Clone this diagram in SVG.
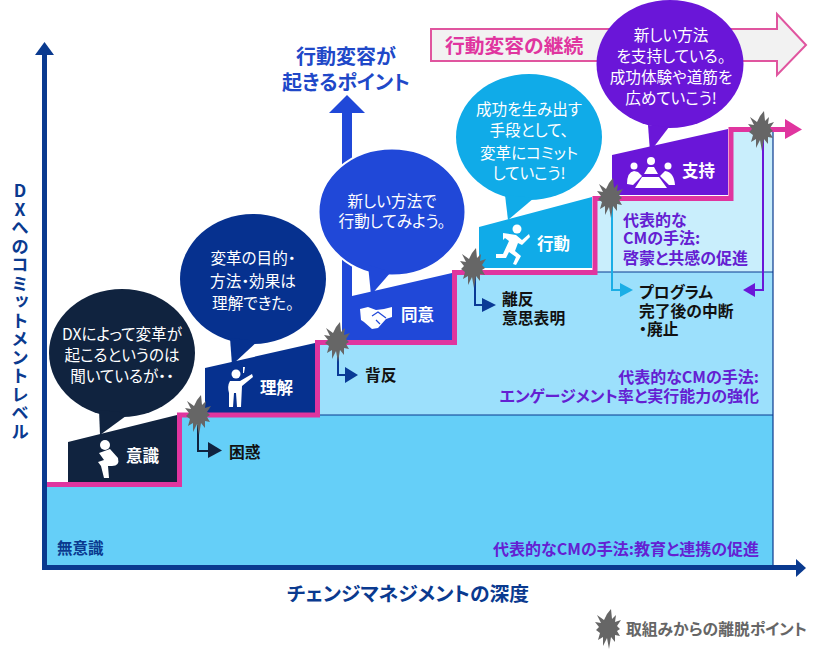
<svg xmlns="http://www.w3.org/2000/svg" width="819" height="663" viewBox="0 0 819 663">
<style>
text{font-family:"Noto Sans CJK JP","Noto Sans",sans-serif;dominant-baseline:central;font-feature-settings:"palt"}
.b{font-size:15.6px;fill:#fff;text-anchor:middle}
.s{font-size:16.500px;font-weight:700;fill:#fff}
.k{font-size:15.800px;font-weight:700;fill:#111}
.p{font-size:16px;font-weight:700;fill:#6420d2}
.n{font-size:15.500px;font-weight:700;fill:#0a3a8f}
.h{font-size:20px;font-weight:700;fill:#2048c8;text-anchor:middle}
.w{fill:#fff}
.line{fill:none;stroke-width:2}
.ring{stroke:#fff;stroke-width:2}
</style>
<defs>
<polygon id="star" fill="#666" points="3,-20 4,-10 8,-14 7,-7 13,-9 9,-3 12,0 9,2 12,7 7,6 7,13 3,8 1,20 -1,9 -5,17 -5,8 -10,11 -8,4 -12,1 -9,-2 -13,-7 -7,-6 -11,-14 -4,-9 -1,-15"/>
</defs>
<rect width="819" height="663" fill="#fff"/>
<g id="regions">
<path d="M47 484H180V415H773V565H47Z" fill="#65cff8"/>
<path d="M317 415V342H455V272H773V415Z" fill="#9ce0fc"/>
<path d="M595 272V198H731V129H773V272Z" fill="#c9eefc"/>
<path d="M595 272H773M317 415H773M773 129V565" fill="none" stroke="#0a3a8f" stroke-width="1.2"/>
</g>
<g id="continuation-arrow">
<path d="M431 29H777V14L806 45L777 75V61H431Z" fill="#f2f2f2" stroke="#e0559f" stroke-width="2"/>
<text x="445" y="44" style="font-size:19.800px;font-weight:700;fill:#e0359f">行動変容の継続</text>
</g>
<g id="point-label">
<text class="h" x="346" y="55">行動変容が</text>
<text class="h" x="346" y="81">起きるポイント</text>
<path d="M342 340V113H329L347 95L365 113H352V340Z" fill="#2048d8"/>
</g>
<g id="node-awareness">
<path d="M68 442L177 415V482H68Z" fill="#10233f"/>
<g class="w"><circle cx="105" cy="445" r="5"/><path d="M99 453L110 449L118 458Q120 466 112 466L108 466L109 478L104 478L101 466L98 462L104 460Z"/></g>
<text class="s" x="126" y="455">意識</text>
<ellipse cx="122" cy="353" rx="73" ry="64" fill="#10233f"/>
<polygon points="99,410 130,413 100,435" fill="#10233f"/>
<text class="b" x="122" y="333">DXによって変革が</text>
<text class="b" x="122" y="354">起こるというのは</text>
<text class="b" x="122" y="375">聞いているが・・</text>
</g>
<g id="node-understanding">
<path d="M205 368L315 343V413H205Z" fill="#06318f"/>
<g class="w"><circle cx="236" cy="374" r="4.500"/><path d="M230 381L240 381L252 374L253 377L242 386L241 407L237 407L236 393L234 393L233 407L229 407L229 393Q227 386 230 381Z"/><path d="M243 367L245 367L244 373L243 373Z"/></g>
<text class="s" x="260" y="387">理解</text>
<ellipse cx="253" cy="279" rx="73" ry="65" fill="#06318f"/>
<polygon points="230,338 258,341 232,365" fill="#06318f"/>
<text class="b" x="253" y="257">変革の目的・</text>
<text class="b" x="253" y="280">方法・効果は</text>
<text class="b" x="253" y="302">理解できた。</text>
</g>
<g id="node-agreement">
<path d="M342 262H352V296L452 273V340H342Z" fill="#2048d8"/>
<g class="w"><path d="M360 309L368 307L376 310L384 309L392 307L392 317L386 319L378 328L372 329L364 322L361 320Z"/></g>
<path d="M372 316L378 312L386 318M376 320L380 324" fill="none" stroke="#2048d8" stroke-width="1.2"/>
<text class="s" x="401" y="314">同意</text>
<ellipse cx="392" cy="212" rx="73.500" ry="63.500" fill="#2048d8" class="ring"/>
<polygon points="368,265 391,272 371,295" fill="#2048d8"/>
<text class="b" x="392" y="200">新しい方法で</text>
<text class="b" x="392" y="220">行動してみよう。</text>
</g>
<g id="node-action">
<path d="M479 227L592 197V268H479Z" fill="#10abe8"/>
<g class="w"><circle cx="517" cy="229" r="4.500"/><path d="M503 233L516 235L522 240L529 234L530 237L522 245L518 243L515 251L521 256L516 265L513 264L516 257L509 252L506 258L496 258L496 254L503 254L509 241L505 238L503 240Z"/></g>
<text class="s" x="537" y="243">行動</text>
<ellipse cx="529" cy="137" rx="73" ry="63" fill="#10abe8"/>
<polygon points="505,195 534,198 508,220" fill="#10abe8"/>
<text class="b" x="529" y="108">成功を生み出す</text>
<text class="b" x="529" y="129">手段として、</text>
<text class="b" x="529" y="152">変革にコミット</text>
<text class="b" x="529" y="172">していこう!</text>
</g>
<g id="node-support">
<path d="M612 155L728 129V195H612Z" fill="#6a16d8"/>
<g class="w"><circle cx="634" cy="166" r="3.500"/><circle cx="651" cy="161" r="4"/><circle cx="668" cy="166" r="3.500"/><path d="M627 184Q627 172 634 171L638 172L642 176L633 185ZM644 174L648 167L654 167L658 174ZM660 176L665 171Q674 172 675 185L669 185ZM642 177H659L667 188H635Z"/></g>
<text class="s" x="682" y="170">支持</text>
<ellipse cx="670" cy="64" rx="73.500" ry="64" fill="#6a16d8"/>
<polygon points="648,125 669,127 650,152" fill="#6a16d8"/>
<text class="b" x="671" y="34">新しい方法</text>
<text class="b" x="671" y="55">を支持している。</text>
<text class="b" x="671" y="76">成功体験や道筋を</text>
<text class="b" x="671" y="97">広めていこう!</text>
</g>
<g id="connectors">
<path d="M47 484.500H179.500V415H317.500V342.500H454.500V272.500H595V198.500H731V129.500H786" fill="none" stroke="#e0359f" stroke-width="5"/>
<polygon points="785,119 802,129.500 785,139" fill="#e0359f"/>
<path class="line" stroke="#10233f" d="M198 425V451H209"/><polygon fill="#10233f" points="208,442 222,450.500 208,458"/>
<path class="line" stroke="#0a3a96" d="M338 350V375H346"/><polygon fill="#0a3a96" points="345,367 358,375 345,383"/>
<path class="line" stroke="#0a3a96" d="M475 275V305H483"/><polygon fill="#0a3a96" points="482,298 496,305 482,312"/>
<path class="line" stroke="#1aaee6" d="M612 205V290H621"/><polygon fill="#1aaee6" points="620,283 633,290 620,297"/>
<path class="line" stroke="#6a16d8" d="M763 135V290H754"/><polygon fill="#6a16d8" points="755,283 743,290 755,297"/>
<path d="M44.500 52V567.500H797" fill="none" stroke="#0a3a8f" stroke-width="5"/>
<polygon points="35,55 44.500,42 54,55" fill="#0a3a8f"/>
<polygon points="796,559 806,568 796,577" fill="#0a3a8f"/>
</g>
<g id="dropout-points">
<use href="#star" x="198" y="415"/>
<use href="#star" x="337" y="342"/>
<use href="#star" x="473" y="268"/>
<use href="#star" x="610" y="198"/>
<use href="#star" x="761" y="131"/>
</g>
<g id="labels">
<text class="k" x="229" y="451">困惑</text>
<text class="k" x="365" y="374">背反</text>
<text class="k" x="502" y="298">離反</text>
<text class="k" x="502" y="317">意思表明</text>
<text class="k" x="639" y="291">プログラム</text>
<text class="k" x="639" y="310">完了後の中断</text>
<text class="k" x="639" y="328">・廃止</text>
<text class="p" x="623" y="219">代表的な</text>
<text class="p" x="623" y="237">CMの手法:</text>
<text class="p" x="623" y="257">啓蒙と共感の促進</text>
<text class="p" x="759" y="376" text-anchor="end">代表的なCMの手法:</text>
<text class="p" x="759" y="395" text-anchor="end">エンゲージメント率と実行能力の強化</text>
<text class="p" x="759" y="548" text-anchor="end">代表的なCMの手法:教育と連携の促進</text>
<text class="n" x="57" y="547">無意識</text>
<text x="408" y="592" text-anchor="middle" style="font-size:19.800px;font-weight:700;fill:#0a3a8f">チェンジマネジメントの深度</text>
<text x="20" y="182" style="font-size:17.500px;font-weight:700;fill:#0a3a8f;writing-mode:vertical-rl;text-orientation:upright;dominant-baseline:auto;letter-spacing:1px">DXへのコミットメントレベル</text>
</g>
<g id="legend">
<use href="#star" x="608" y="629"/>
<text x="626" y="628" style="font-size:15.800px;font-weight:700;fill:#666">取組みからの離脱ポイント</text>
</g>
</svg>
